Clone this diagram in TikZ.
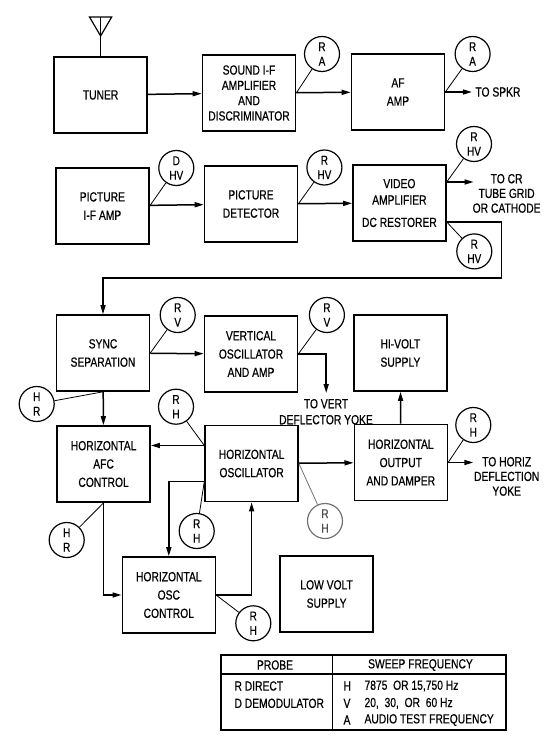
\documentclass[tikz,border=0pt]{standalone}
\usepackage{fontspec}
\setmainfont{Liberation Sans}[FakeStretch=0.78, FakeBold=0.6]
\usetikzlibrary{arrows.meta}

\begin{document}
\begin{tikzpicture}[x=1pt, y=-1pt,
  font=\fontsize{13.2}{18.3}\selectfont,
  box/.style={draw, line width=1.6pt, minimum width=93pt, minimum height=76pt,
    align=center, inner sep=0pt},
  probe/.style={draw, circle, line width=1.2pt, minimum size=35pt, inner sep=0pt,
    align=center, font=\fontsize{12.8}{14.5}\selectfont},
  lead/.style={line width=0.8pt},
  wire/.style={line width=1.5pt},
  flow/.style={wire, -{Triangle[length=9pt,width=5pt]}}]
  \useasboundingbox (0,0) rectangle (544,746);

  % signal blocks
  \node[box] (tuner) at (100.6,95) {TUNER};
  \node[box, font=\fontsize{13.2}{15.3}\selectfont] (snd) at (249,93)
    {SOUND I-F\\AMPLIFIER\\AND\\DISCRIMINATOR};
  \node[box] (af) at (398,92) {AF\\AMP};
  \node[box] (pif) at (102.4,206) {PICTURE\\I-F AMP};
  \node[box] (pdet) at (251,204) {PICTURE\\DETECTOR};
  \node[box, font=\fontsize{13.2}{16.4}\selectfont] (vid) at (399.4,203)
    {VIDEO\\AMPLIFIER\\[6pt]DC RESTORER};
  \node[box] (sync) at (103,353) {SYNC\\SEPARATION};
  \node[box] (vosc) at (251,354) {VERTICAL\\OSCILLATOR\\AND AMP};
  \node[box] (hv) at (400.4,353) {HI-VOLT\\SUPPLY};
  \node[box] (afc) at (103.6,464) {HORIZONTAL\\AFC\\CONTROL};
  \node[box] (hosc) at (251.6,463.5) {HORIZONTAL\\OSCILLATOR};
  \node[box] (hout) at (400.8,462.5) {HORIZONTAL\\OUTPUT\\AND DAMPER};
  \node[box] (oscc) at (168.8,595) {HORIZONTAL\\OSC\\CONTROL};
  \node[box] (lvs) at (326.6,594) {LOW VOLT\\SUPPLY};

  % antenna
  \draw[line width=1.2pt] (89.5,17) -- (111.7,17) -- (100.6,36) -- cycle;
  \draw[line width=1.2pt] (100.6,17) -- (tuner.north);

  % probe points
  \node[probe] (ra1) at (322,54) {R\\A};
  \node[probe] (ra2) at (472.6,54) {R\\A};
  \node[probe] (dhv) at (176.3,168) {D\\HV};
  \node[probe] (rhv1) at (324.4,167.5) {R\\HV};
  \node[probe] (rhv2) at (474,144) {R\\HV};
  \node[probe] (rhv3) at (474.3,251.4) {R\\HV};
  \node[probe] (rv1) at (177.7,315) {R\\V};
  \node[probe] (rv2) at (326.9,315) {R\\V};
  \node[probe] (hr1) at (36.7,404) {H\\R};
  \node[probe] (rh1) at (176,406.7) {R\\H};
  \node[probe] (rh2) at (473.3,425) {R\\H};
  \node[probe] (rh3) at (196.7,531) {R\\H};
  \node[probe] (hr2) at (66.7,540) {H\\R};
  \node[probe, draw=black!55, text=black!70] (rh4) at (325,521) {R\\H};
  \node[probe] (rh5) at (253.3,623.3) {R\\H};

  % taps on the block outputs
  \coordinate (vcr) at ([yshift=21pt]vid.east);
  \coordinate (vdc) at ([yshift=-19pt]vid.east);
  \coordinate (fb) at (501.4,278);
  \coordinate (vyk) at (326.2,393);
  \coordinate (hafc) at ([yshift=18pt]hosc.west);
  \coordinate (hosc2) at ([yshift=-18pt]hosc.west);
  \coordinate (spkr) at (471.9,92);
  \coordinate (crt) at (473.6,182);
  \coordinate (hyk) at (473.3,462.5);

  % signal flow
  \draw[flow] (tuner) -- (snd);
  \draw[flow] (snd) -- (af);
  \draw[flow] (af.east) -- (spkr);
  \draw[flow] (pif) -- (pdet);
  \draw[flow] (pdet) -- (vid);
  \draw[flow] (vcr) -- (crt);
  \draw[flow] (vdc) -| (fb) -| (sync.north);
  \draw[flow] (sync) -- (vosc);
  \draw[flow] (vosc.east) -| (vyk);
  \draw[flow] (sync) -- (afc);
  \draw[flow] (hafc) -- (hafc -| afc.east);
  \draw[flow] (hosc2) -| (oscc.north);
  \draw[flow] (afc.south) |- (oscc.west);
  \draw[flow] (oscc.east) -| (hosc.south);
  \draw[flow] (hosc) -- (hout);
  \draw[flow] (hout) -- (hv);
  \draw[flow] (hout.east) -- (hyk);

  % probe leads
  \draw[lead] (ra1) -- (snd.east);
  \draw[lead] (ra2) -- (af.east);
  \draw[lead] (dhv) -- (pif.east);
  \draw[lead] (rhv1) -- (pdet.east);
  \draw[lead] (rhv2) -- (vcr);
  \draw[lead] (rhv3) -- (vdc);
  \draw[lead] (rv1) -- (sync.east);
  \draw[lead] (rv2) -- (vosc.east);
  \draw[lead] (hr1) -- (sync.south);
  \draw[lead] (rh1) -- (hafc);
  \draw[lead] (rh2) -- (hout.east);
  \draw[lead] (rh3) -- (hosc2);
  \draw[lead] (hr2) -- (afc.south);
  \draw[lead, black!55] (rh4) -- (hosc.east);
  \draw[lead] (rh5) -- (oscc.east);

  % outputs
  \node[anchor=west] (spkrtxt) at (spkr) {TO SPKR};
  \node[anchor=north, align=center, font=\fontsize{13.2}{14.7}\selectfont]
    (crtxt) at (506.6,170.5) {TO CR\\TUBE GRID\\OR CATHODE};
  \node[anchor=north, align=center, font=\fontsize{13.2}{16}\selectfont]
    (vtxt) at (326,395.5) {TO VERT\\DEFLECTOR YOKE};
  \node[anchor=north, align=center, font=\fontsize{13.2}{14.7}\selectfont]
    (htxt) at (506.7,453.5) {TO HORIZ\\DEFLECTION\\YOKE};

  % probe legend
  \draw[line width=1.4pt] (221,655) rectangle (506,730);
  \draw[line width=1.2pt] (221,674) -- (506,674);
  \draw[line width=1.2pt] (332.7,655) -- (332.7,730);
  \node (tprobe) at (275,665) {PROBE};
  \node (tsweep) at (420.5,665) {SWEEP FREQUENCY};
  \node[anchor=west] (tr) at (231,686) {R DIRECT};
  \node[anchor=west] (td) at (231,703.3) {D DEMODULATOR};
  \node[anchor=west] (th) at (340,686) {H};
  \node[anchor=west] (tv) at (340,703.3) {V};
  \node[anchor=west] (ta) at (340,720) {A};
  \node[anchor=west] (thf) at (361,686) {7875 \ OR 15,750 Hz};
  \node[anchor=west] (tvf) at (361,703.3) {20, \ 30, \ OR \ 60 Hz};
  \node[anchor=west] (taf) at (361,720) {AUDIO TEST FREQUENCY};
\end{tikzpicture}
\end{document}
